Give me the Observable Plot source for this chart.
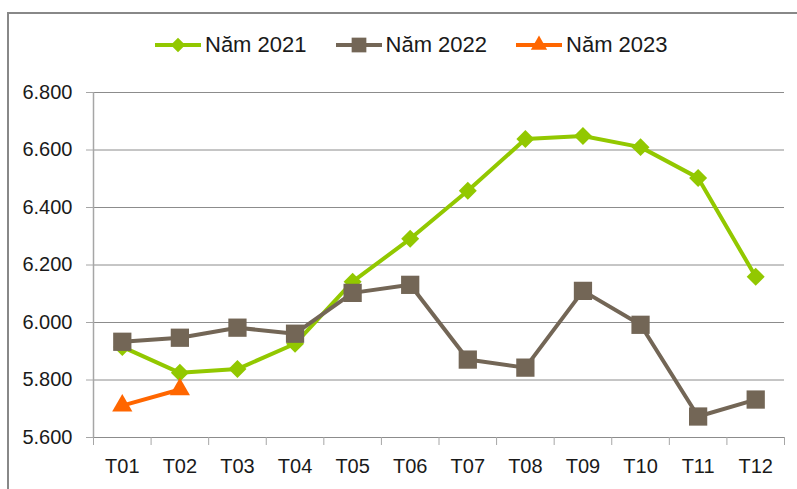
<!DOCTYPE html>
<html>
<head>
<meta charset="utf-8">
<script src="https://cdn.jsdelivr.net/npm/d3@7"></script>
<script src="https://cdn.jsdelivr.net/npm/@observablehq/plot@0.6"></script>
<style>
  html, body { margin: 0; padding: 0; background: #fff; overflow: hidden; width: 797px; height: 489px; }
  #wrap { position: relative; width: 797px; height: 489px; font-family: "Liberation Sans", Arial, sans-serif; color: #1a1a1a; }
  #frame { position: absolute; left: 7px; top: 12px; width: 900px; height: 600px; border: 2px solid #888; box-sizing: border-box; pointer-events: none; }
  #legend { position: relative; height: 70px; }
  #legend .row { position: absolute; top: 29px; left: 155px; height: 31px; display: flex; align-items: center; gap: 29px; }
  #legend .item { display: flex; align-items: center; gap: 4px; font-size: 22px; line-height: 31px; white-space: nowrap; }
  #legend svg { display: block; overflow: visible; }
  #chart svg { display: block; }
</style>
</head>
<body>
<div id="wrap">
  <div id="frame"></div>
  <div id="legend"><div class="row"></div></div>
  <div id="chart"></div>
</div>
<script>
// ---- data ----
const months = ["T01","T02","T03","T04","T05","T06","T07","T08","T09","T10","T11","T12"];
const seriesNames = ["Năm 2021", "Năm 2022", "Năm 2023"];
const values2021 = [5915, 5825, 5838, 5926, 6142, 6291, 6458, 6638, 6649, 6610, 6503, 6159];
const values2022 = [5933, 5947, 5982, 5961, 6103, 6131, 5871, 5843, 6110, 5992, 5673, 5732];
const values2023 = [5711, 5767];
const yTicks = [5600, 5800, 6000, 6200, 6400, 6600, 6800];

// ---- styling ----
const colors = ["#92c800", "#736656", "#ff6600"];
const symbols = ["diamond2", "square", "triangle"];
const radii = [8.1, 10.3, 7.5];

const allValues = [values2021, values2022, values2023];
const rowsBySeries = allValues.map((vals, s) =>
  vals.map((v, i) => ({ month: i + 1, label: months[i], value: v, series: seriesNames[s] }))
);

const locale = d3.formatLocale({ decimal: ",", thousands: ".", grouping: [3], currency: ["", ""] });
const fmt = locale.format(",.0f");

// ---- legend ----
const row = document.querySelector("#legend .row");
const symMap = { diamond2: d3.symbolDiamond2, square: d3.symbolSquare, triangle: d3.symbolTriangle };
seriesNames.forEach((name, s) => {
  const item = document.createElement("div");
  item.className = "item";
  const sw = d3.create("svg").attr("width", 46).attr("height", 20);
  sw.append("line").attr("x1", 0).attr("x2", 46).attr("y1", 10).attr("y2", 10)
    .attr("stroke", colors[s]).attr("stroke-width", 4);
  const size = Math.PI * radii[s] * radii[s] * 0.65;
  sw.append("path").attr("transform", "translate(23,10)")
    .attr("d", d3.symbol(symMap[symbols[s]], size)()).attr("fill", colors[s]);
  item.appendChild(sw.node());
  const t = document.createElement("span");
  t.textContent = name;
  item.appendChild(t);
  row.appendChild(item);
});

// ---- chart ----
const boundaries = d3.range(months.length + 1).map(i => i + 0.5);
const centers = d3.range(1, months.length + 1);

const seriesMarks = rowsBySeries.flatMap((rows, s) => [
  Plot.line(rows, { x: "month", y: "value", stroke: colors[s], strokeWidth: 4, strokeLinejoin: "round" }),
  Plot.dot(rows, { x: "month", y: "value", symbol: symbols[s], r: radii[s], fill: colors[s], stroke: "none" })
]);

const chart = Plot.plot({
  width: 797,
  height: 419,
  marginTop: 22,
  marginBottom: 52,
  marginLeft: 93,
  marginRight: 13,
  style: { fontFamily: "'Liberation Sans', Arial, sans-serif", fontSize: "20px", background: "transparent", color: "#1a1a1a" },
  x: { type: "linear", domain: [0.5, months.length + 0.5] },
  y: { domain: [5600, 6800] },
  marks: [
    Plot.gridY(yTicks, { stroke: "#8c8c8c", strokeOpacity: 1, strokeWidth: 1 }),
    Plot.ruleX([0.5], { y1: 5600, y2: 6800, stroke: "#a6a6a6", strokeWidth: 1.5 }),
    Plot.axisY(yTicks, { tickSize: 7, tickPadding: 14, tickFormat: fmt, fontSize: 20, stroke: "#a6a6a6", fill: "#1a1a1a", label: null }),
    Plot.axisX(boundaries, { tickSize: 8, tickFormat: () => "", stroke: "#a6a6a6", label: null }),
    Plot.axisX(centers, { tickSize: 0, tickPadding: 21, tickFormat: i => months[i - 1], fontSize: 20,
      fontFamily: "'Liberation Sans Narrow', 'Liberation Sans', Arial, sans-serif", fill: "#1a1a1a", label: null }),
    ...seriesMarks
  ]
});
document.getElementById("chart").appendChild(chart);
</script>
</body>
</html>
